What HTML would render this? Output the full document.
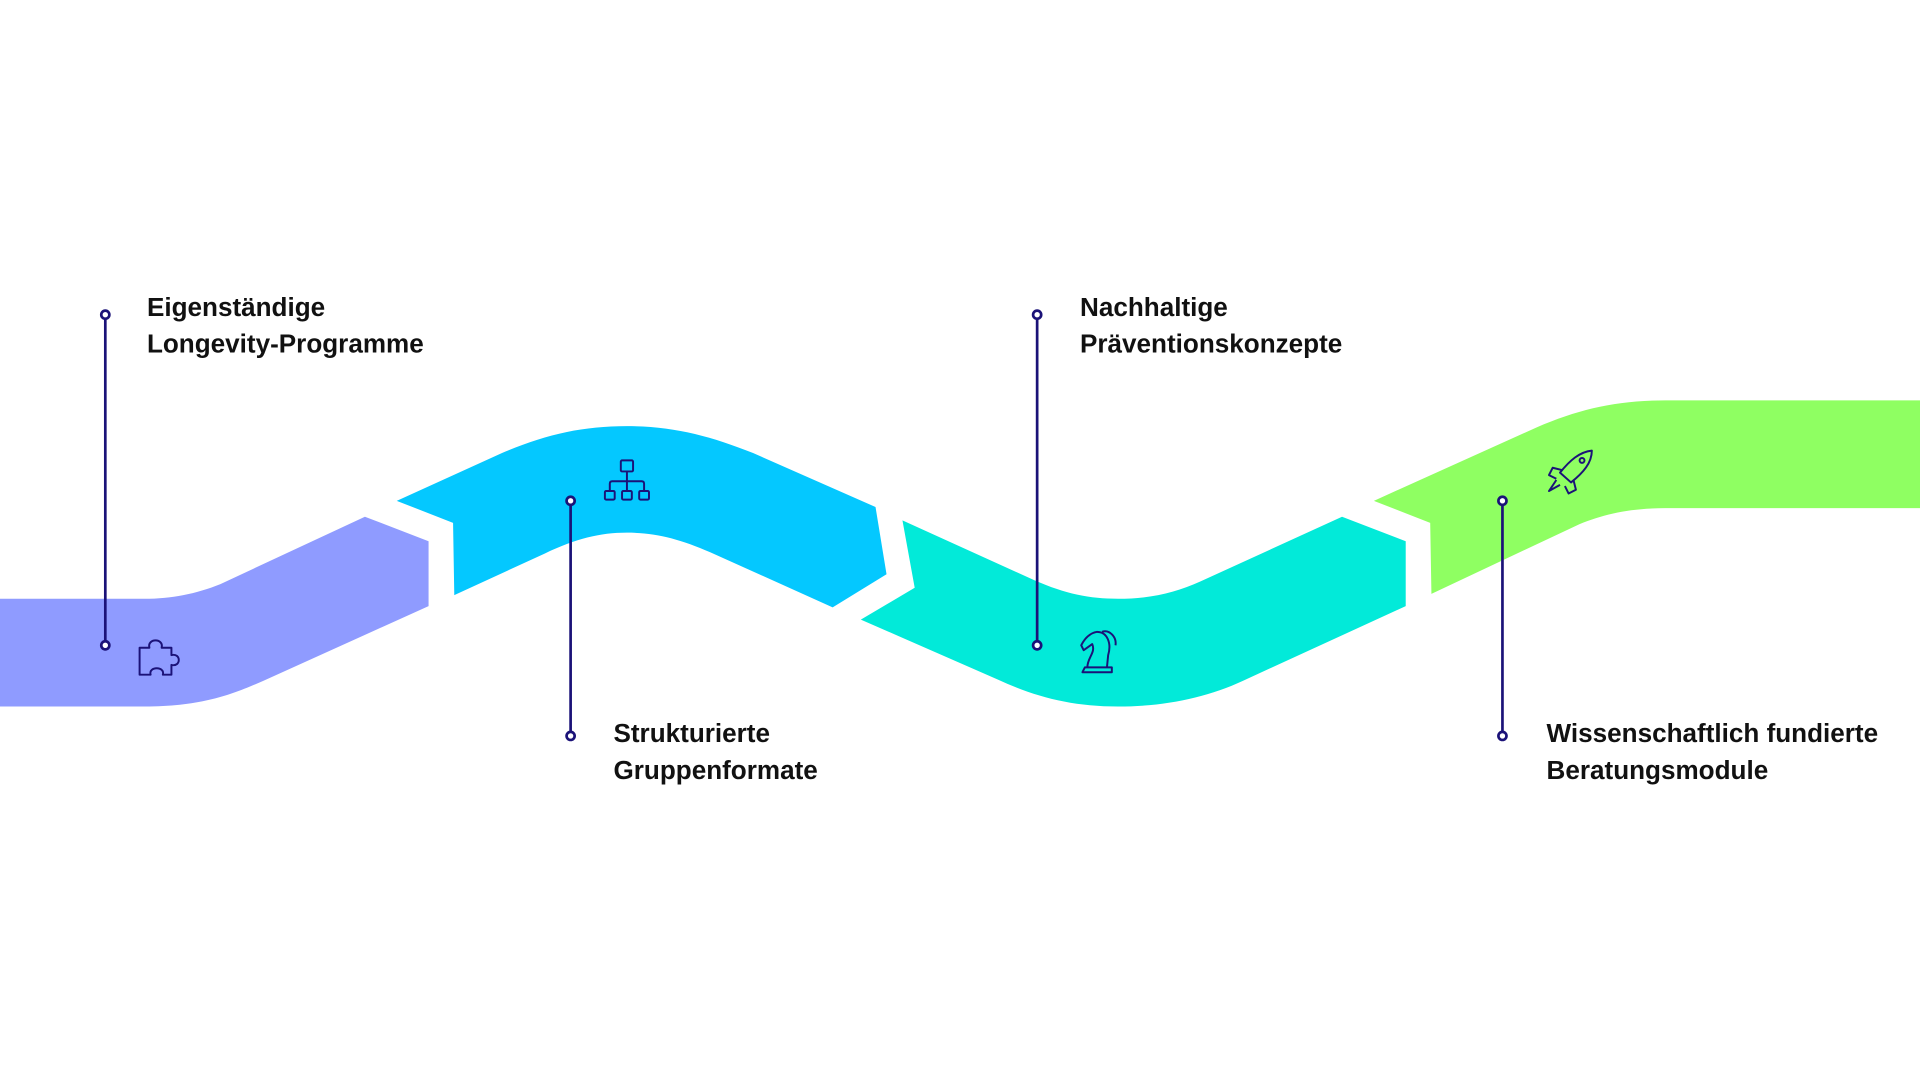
<!DOCTYPE html>
<html><head><meta charset="utf-8"><style>
html,body{margin:0;padding:0;background:#fff;width:1920px;height:1080px;overflow:hidden}
svg{display:block}
text{font-family:"Liberation Sans",sans-serif;font-weight:bold;font-size:21.3px;fill:#111}
</style></head><body>
<svg width="1920" height="1080" viewBox="0 0 1568 882" xmlns="http://www.w3.org/2000/svg">
<path fill="#8f9bff" d="M0,489 L118,489 C140,489 160,485 180,477 L298,422 L350,442 L350,495 L215,556 C190,567 165,577 118,577 L0,577 Z"/>
<path fill="#04c8ff" d="M324,409 L410,370 C445,355 475,348 512,348 C550,348 580,356 615,370 L715,414 L724,469 L680,496 L580,451 C555,440 535,435 512,435 C490,435 470,440 445,452 L371,486 L370,427 Z"/>
<path fill="#02ead9" d="M737,425 L845,474 C870,485 890,489 913,489 C940,489 960,484 980,475 L1096,422 L1148,442 L1148,495 L1015,556 C985,570 950,577 913,577 C875,577 845,569 815,555 L703,506 L747,480 Z"/>
<path fill="#8fff62" d="M1122,409 L1255,349 C1290,334 1320,327 1360,327 L1568,327 L1568,415 L1360,415 C1330,415 1310,420 1290,428 L1169,485 L1168,427 Z"/>
<g stroke="#1b1278" stroke-width="2.2" fill="none">
<line x1="86" y1="260" x2="86" y2="524"/><circle cx="86" cy="257" r="3.3" fill="#fff"/><circle cx="86" cy="527" r="3.3" fill="#fff"/>
<line x1="466" y1="412" x2="466" y2="598"/><circle cx="466" cy="409" r="3.3" fill="#fff"/><circle cx="466" cy="601" r="3.3" fill="#fff"/>
<line x1="847" y1="260" x2="847" y2="524"/><circle cx="847" cy="257" r="3.3" fill="#fff"/><circle cx="847" cy="527" r="3.3" fill="#fff"/>
<line x1="1227" y1="412" x2="1227" y2="598"/><circle cx="1227" cy="409" r="3.3" fill="#fff"/><circle cx="1227" cy="601" r="3.3" fill="#fff"/>
</g>
<g stroke="#1b1278" stroke-width="1.6" fill="none" stroke-linejoin="round">
<path d="M114,529 L122,529 C120,521 134,521 132,529 L140,529 L140,535 C148,533 148,545 140,543 L140,551 L133,551 C135,544 121,544 123,551 L114,551 Z"/>
<rect x="507" y="376" width="10" height="9" rx="1"/>
<line x1="512" y1="385" x2="512" y2="401"/>
<path d="M498,401 L498,395 Q498,393 500,393 L524,393 Q526,393 526,395 L526,401"/>
<rect x="494" y="401" width="8" height="7" rx="1"/><rect x="508" y="401" width="8" height="7" rx="1"/><rect x="522" y="401" width="8" height="7" rx="1"/>
<path d="M886,545 L908,545 L908,549 L884,549 Z"/>
<path d="M888,545 C888,537 895,533 892,526 L885,531 L883,527 C886,521 890,517 896,516 C904,516 908,525 905,535 L904,545"/>
<path d="M900,516 C906,514 912,520 911,527"/>
<path d="M1274,386 C1282,376 1290,369 1300,368 C1300,378 1293,386 1283,394 Z"/>
<circle cx="1292" cy="376" r="2"/>
<path d="M1276,384 L1268,382 L1265,388 L1271,391"/>
<path d="M1285,392 L1287,400 L1281,403 L1278,397"/>
<path d="M1271,392 L1265,401 L1274,396"/>
</g>
<text x="120" y="258">Eigenständige</text>
<text x="120" y="288">Longevity-Programme</text>
<text x="501" y="606">Strukturierte</text>
<text x="501" y="636">Gruppenformate</text>
<text x="882" y="258">Nachhaltige</text>
<text x="882" y="288">Präventionskonzepte</text>
<text x="1263" y="606">Wissenschaftlich fundierte</text>
<text x="1263" y="636">Beratungsmodule</text>
</svg>
</body></html>
